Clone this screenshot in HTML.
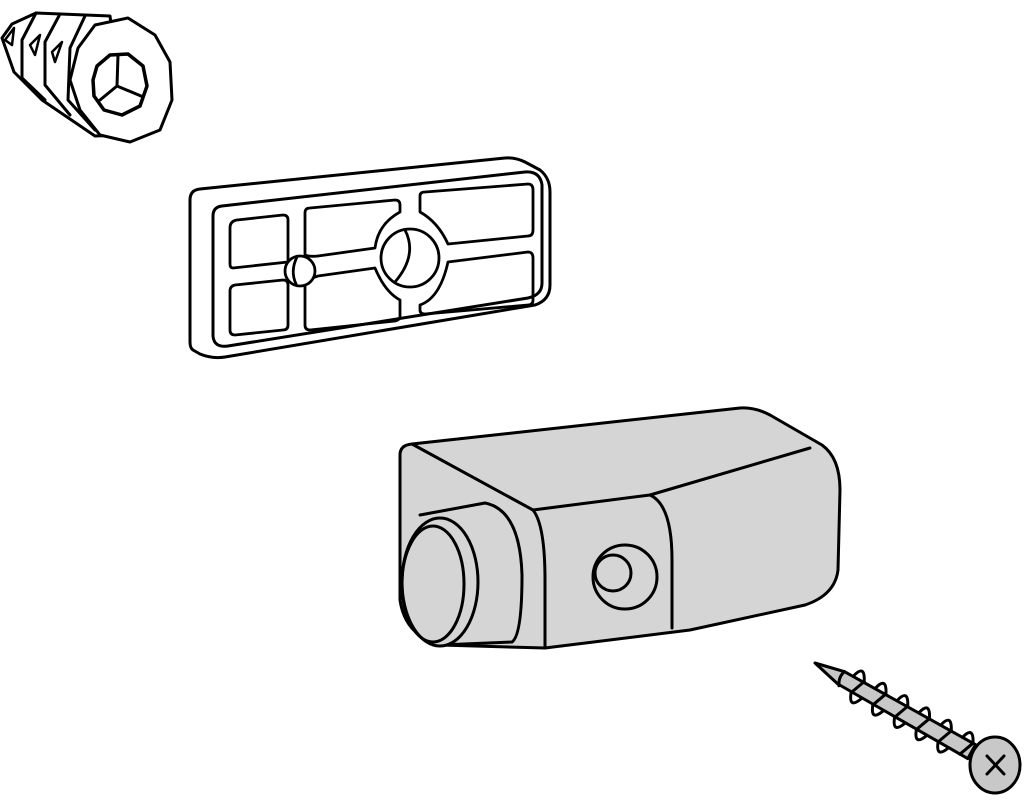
<!DOCTYPE html>
<html><head><meta charset="utf-8"><style>html,body{margin:0;padding:0;background:#fff}svg{display:block}</style></head>
<body>
<svg width="1024" height="804" viewBox="0 0 1024 804" xmlns="http://www.w3.org/2000/svg" fill="none" stroke="#000" stroke-width="3" stroke-linejoin="round" stroke-linecap="round">
<!-- anchor -->
<g fill="#fff">
<polygon points="2,38 12,24 36,13 110,16 125,135 95,136 42,100 14,72"/>
<path d="M36,13 L22,40 L22,78 L45,100" fill="none"/>
<path d="M60,14 L45,42 L45,85 L70,115" fill="none"/>
<path d="M85,16 L70,48 L68,100 L95,130" fill="none"/>
<path d="M14,28 L5,40 L12,45 Z M40,35 L30,45 L35,55 Z M62,42 L52,52 L55,62 Z" fill="none" stroke-width="2.5"/>
<polygon points="78,48 95,25 128,18 155,35 170,62 172,100 160,130 130,142 100,135 80,110 70,80"/>
<polygon points="97,66 110,55 128,54 143,66 147,86 140,106 122,115 104,110 94,96 93,80" stroke-width="3.5"/>
<path d="M118,55 L117,86 L100,100 M117,86 L141,96"/>
</g>
<!-- plate -->
<path d="M190,200 Q190,190 200,189 L505,158 Q515,157 525,162 L540,170 Q550,178 550,192 L550,285 Q550,300 535,305 L225,357 Q212,359 200,354 L193,350 Q190,348 190,342 Z" fill="#fff"/>
<path d="M213,216 Q213,207 222,206 L525,172 Q540,171 542,185 L542,283 Q542,295 528,298 L228,346 Q214,348 213,336 Z"/>
<g stroke-width="2.8">
<path d="M230,228 Q230,221 237,220 L283,215 Q288,215 288,220 L288,262 L233,268 Q230,268 230,264 Z"/>
<path d="M230,291 Q230,286 235,285 L283,280 Q288,280 288,285 L288,325 Q288,330 283,330 L235,335 Q230,335 230,330 Z"/>
<path d="M305,213 Q305,208 310,208 L395,200 Q400,200 400,205 L400,212 Q378,224 375,248 L318,256 Q310,257 305,255 Z"/>
<path d="M305,285 Q310,278 318,276 L375,268 Q385,292 400,300 L400,316 Q400,320 395,321 L310,330 Q305,330 305,325 Z"/>
<path d="M420,196 Q420,192 425,192 L528,184 Q533,184 533,190 L533,230 Q533,236 528,236 L448,244 Q438,222 420,212 Z"/>
<path d="M420,305 Q440,298 448,262 L528,252 Q533,252 533,258 L533,300 Q533,305 528,305 L425,314 Q420,314 420,310 Z"/>
<circle cx="300" cy="271" r="15" fill="#fff"/>
<path d="M297,257 Q290,271 296,284"/>
<circle cx="410" cy="258" r="29"/>
<path d="M405,230 Q418,255 395,282"/>
</g>
<!-- body -->
<path d="M400,455 Q400,445 412,444 L740,408 Q755,407 770,415 L822,445 Q840,458 840,490 L838,570 Q835,595 805,605 L690,630 L545,648 L440,645 Q405,635 400,600 Z" fill="#d5d5d5"/>
<path d="M412,444 L533,510 L650,495 L810,448"/>
<path d="M650,495 Q672,505 672,560 L672,628"/>
<path d="M533,510 Q545,525 545,580 L545,648"/>
<path d="M420,515 L485,503 Q520,510 522,575 Q522,635 512,642 L440,645" fill="#d5d5d5"/>
<ellipse cx="440" cy="582" rx="38" ry="64" fill="#d5d5d5"/>
<ellipse cx="433" cy="584" rx="31" ry="58"/>
<circle cx="625" cy="577" r="32"/>
<circle cx="613" cy="573" r="18"/>
<!-- screw -->
<g transform="translate(815,663) rotate(29.5)">
<path d="M0,0 L30,-7 L180,-8 L180,8 L30,7 Z" fill="#c8c8c8"/>
<g stroke-width="3">
<path d="M30,-7 Q27,0 32,8"/>
<path d="M40,-8 Q44,-24 52,-8 M46,8 Q52,24 58,8"/>
<path d="M65,-8 Q69,-24 77,-8 M71,8 Q77,24 83,8"/>
<path d="M90,-8 Q94,-24 102,-8 M96,8 Q102,24 108,8"/>
<path d="M115,-8 Q119,-24 127,-8 M121,8 Q127,24 133,8"/>
<path d="M140,-8 Q144,-24 152,-8 M146,8 Q152,24 158,8"/>
<path d="M165,-8 Q169,-24 177,-8"/>
<path d="M52,-8 L46,8 M77,-8 L71,8 M102,-8 L96,8 M127,-8 L121,8 M152,-8 L146,8 M177,-8 L171,8"/>
</g>
</g>
<ellipse cx="995" cy="765" rx="25" ry="28" fill="#c8c8c8"/>
<path d="M987,756 L1004,774 M1004,756 L987,774" stroke-width="3"/>
</svg>
</body></html>
